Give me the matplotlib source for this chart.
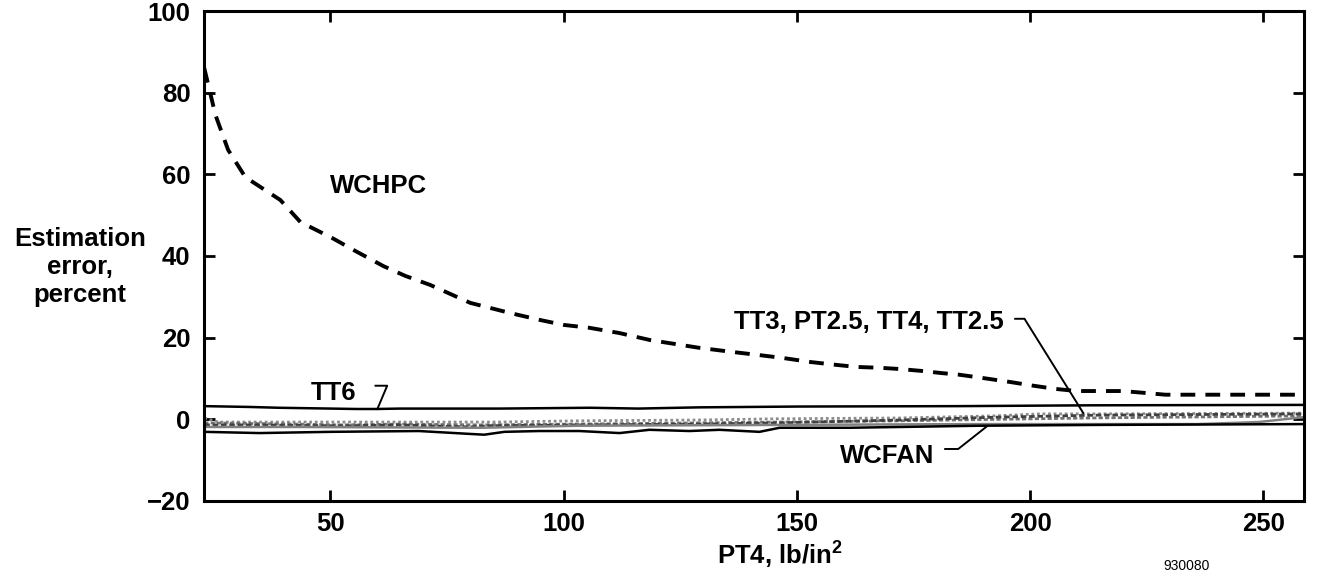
import numpy as np
import matplotlib.pyplot as plt

plt.rcParams['font.family'] = ['Liberation Sans', 'DejaVu Sans']
plt.rcParams['font.weight'] = 'bold'
plt.rcParams['mathtext.fontset'] = 'custom'
plt.rcParams['mathtext.rm'] = 'Liberation Sans:bold'
plt.rcParams['mathtext.bf'] = 'Liberation Sans:bold'

# WCHPC estimation error (dashed curve)
wchpc_x = [23, 25.4, 28.1, 31.8, 39.3, 43.6, 50.4, 55.4, 61.4, 66.1, 71.4, 80, 88.6, 95, 100,
           105.5, 112, 118.5, 129, 136, 142, 147, 153, 158.5, 162.8, 167.7, 172, 177, 181,
           184.8, 189.8, 195.8, 200.7, 205.6, 210, 214.9, 219.8, 225, 229, 235, 258.6]
wchpc_y = [86.0, 74.5, 66.0, 59.3, 53.7, 48.3, 44.4, 41.2, 37.5, 35.1, 32.9, 28.5, 26.0, 24.3, 23.1,
           22.4, 21.1, 19.4, 17.5, 16.5, 15.7, 15.0, 14.0, 13.3, 12.8, 12.6, 12.3, 11.8, 11.3,
           10.9, 10.1, 9.1, 8.2, 7.4, 6.9, 6.9, 6.9, 6.4, 6.0, 6.0, 6.0]

# TT6
tt6_x = [23, 32.6, 39, 55.6, 59.9, 65, 86.4, 105.7, 116, 129, 150.5, 185, 213, 258.6]
tt6_y = [3.2, 3.0, 2.8, 2.5, 2.5, 2.6, 2.6, 2.8, 2.6, 2.9, 3.1, 3.2, 3.4, 3.5]

# WCFAN
wcfan_x = [23, 34.8, 50, 69, 79.8, 83, 87.3, 94.8, 103.4, 112, 118.4, 127, 133.4, 142, 146.3,
           161.3, 189.2, 215, 258.6]
wcfan_y = [-3.1, -3.4, -3.1, -2.9, -3.6, -3.8, -3.1, -2.9, -2.9, -3.4, -2.6, -2.9, -2.6, -3.1, -2.1,
           -2.1, -1.6, -1.4, -1.2]

# TT3, PT2.5, TT4, TT2.5
tt3_x = [23, 26, 43, 65, 86, 103, 129, 146, 172, 192, 202, 215, 258.6]
tt3_y = [0.3, -0.7, -0.7, -0.7, -0.7, -0.4, -0.2, 0.1, 0.3, 0.8, 1.3, 1.3, 1.5]
pt25_x = [23, 43, 52, 65, 82, 103, 129, 146, 172, 213, 258.6]
pt25_y = [-0.9, -1.2, -1.4, -1.2, -1.4, -1.2, -0.9, -0.7, -0.4, 0.3, 0.8]
tt4_x = [23, 35, 50, 54, 65, 80, 84, 103, 129, 146, 172, 193, 215, 258.6]
tt4_y = [-1.4, -1.4, -1.6, -1.6, -1.4, -1.9, -1.6, -1.4, -1.2, -0.9, -0.2, 0.5, 1.0, 1.3]
tt25_x = [23, 43, 82, 103, 146, 189, 236, 249, 258.6]
tt25_y = [-1.9, -1.9, -2.1, -1.6, -1.4, -1.2, -1.2, -0.7, 0.5]

xticks = [50, 100, 150, 200, 250]
yticks = [-20, 0, 20, 40, 60, 80, 100]

fig = plt.figure(figsize=(13.18, 5.81), dpi=100)
ax = fig.add_axes([0.155, 0.138, 0.834, 0.843])

ax.plot(tt3_x, tt3_y, color='0.55', lw=2.0, linestyle=(0, (1, 1)))
ax.plot(pt25_x, pt25_y, color='0.45', lw=2.0, linestyle=(0, (1.5, 0.8)))
ax.plot(tt4_x, tt4_y, color='0.25', lw=2.0, linestyle=(0, (2, 1)))
ax.plot(tt25_x, tt25_y, color='0.5', lw=1.8)
ax.plot(tt6_x, tt6_y, color='black', lw=1.8)
ax.plot(wcfan_x, wcfan_y, color='black', lw=1.8)
ax.plot(wchpc_x, wchpc_y, color='black', lw=2.8, dashes=(3.8, 2.6))

# labels with leader lines
ax.text(60.3, 57.1, 'WCHPC', fontsize=18.5, ha='center', va='center')
ax.text(50.7, 6.5, 'TT6', fontsize=18.5, ha='center', va='center')
ax.plot([59.7, 62.2, 60.1], [8.2, 8.2, 2.5], color='black', lw=1.4)
ax.text(165.5, 23.8, 'TT3, PT2.5, TT4, TT2.5', fontsize=18.5, ha='center', va='center')
ax.plot([196.8, 198.8, 211.4], [24.6, 24.6, 1.5], color='black', lw=1.4)
ax.text(169.4, -9.0, 'WCFAN', fontsize=18.5, ha='center', va='center')
ax.plot([181.8, 184.6, 190.8], [-7.3, -7.3, -1.7], color='black', lw=1.4)

ax.set_xlim(23, 258.6)
ax.set_ylim(-20, 100)
ax.set_xticks(xticks)
ax.set_yticks(yticks)
ax.tick_params(direction='in', top=True, right=True, length=8, width=2, labelsize=18.5)
ax.tick_params(axis='x', pad=8)
ax.tick_params(axis='y', pad=10)
for s in ax.spines.values():
    s.set_linewidth(2.2)

ax.text((780 - 204) / 1099, -53 / 490, r'PT4, lb/in$^{\mathbf{2}}$', transform=ax.transAxes,
        fontsize=18.5, ha='center', va='center')
fig.text(80 / 1318, 1 - 267 / 581, 'Estimation\nerror,\npercent', fontsize=18.5,
         ha='center', va='center', multialignment='center', linespacing=1.2)
fig.text(1187 / 1318, 1 - 566 / 581, '930080', fontsize=10, ha='center', va='center',
         fontweight='normal')

fig.savefig('out.png', dpi=100)
